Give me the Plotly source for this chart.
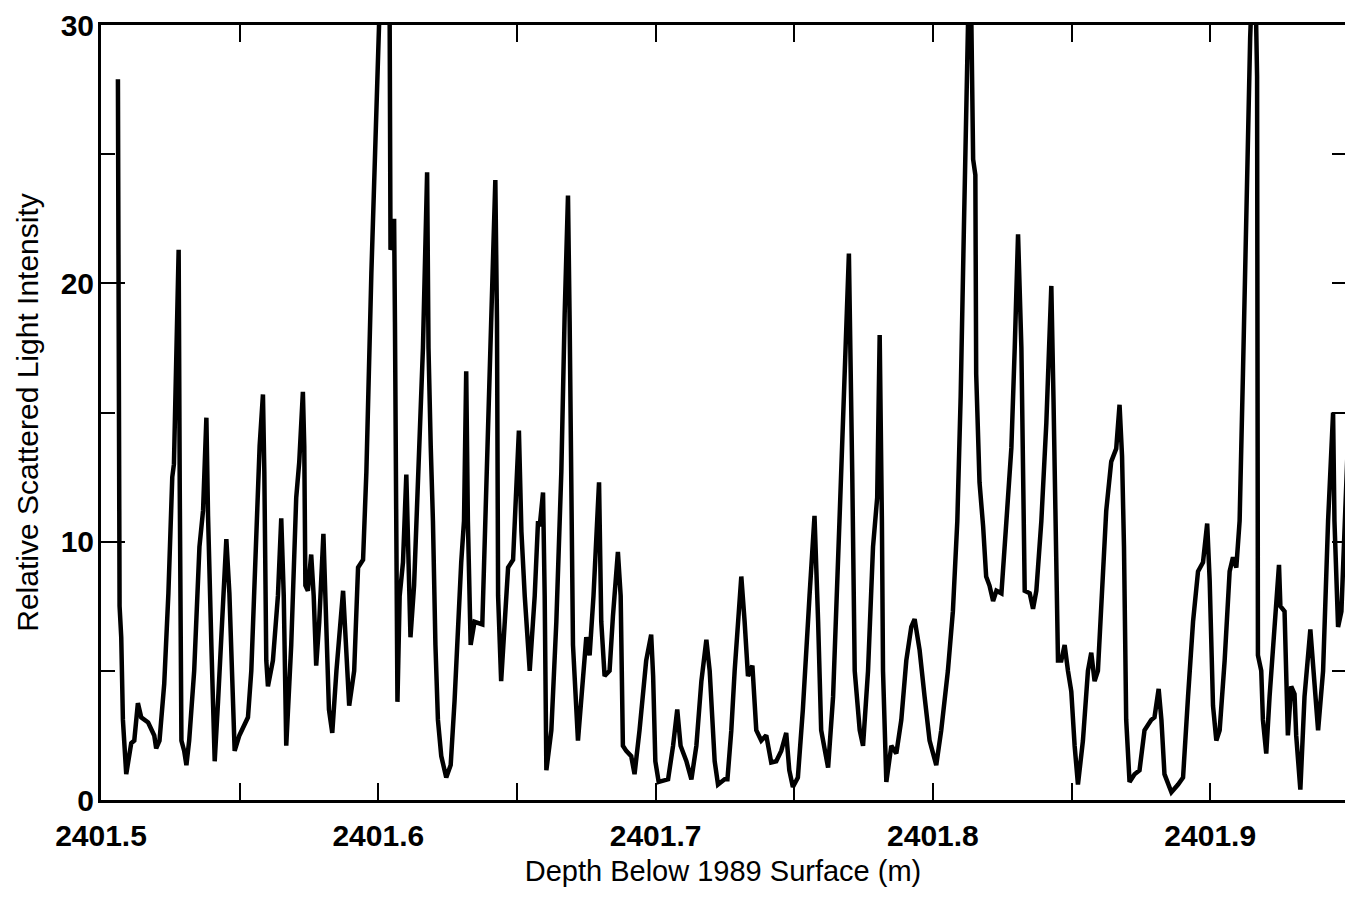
import plotly.graph_objects as go

# depth below 1989 surface (m)
depth = [
    2401.5061, 2401.5067, 2401.5073, 2401.5079, 2401.5091, 2401.5109, 2401.5120, 2401.5133,
    2401.5145, 2401.5170, 2401.5192, 2401.5199, 2401.5211, 2401.5228, 2401.5243, 2401.5257,
    2401.5263, 2401.5280, 2401.5284, 2401.5290, 2401.5300, 2401.5308, 2401.5318, 2401.5336,
    2401.5355, 2401.5368, 2401.5380, 2401.5386, 2401.5398, 2401.5410, 2401.5422, 2401.5434,
    2401.5452, 2401.5463, 2401.5476, 2401.5482, 2401.5499, 2401.5530, 2401.5542, 2401.5560,
    2401.5572, 2401.5584, 2401.5589, 2401.5596, 2401.5602, 2401.5620, 2401.5638, 2401.5650,
    2401.5659, 2401.5668, 2401.5686, 2401.5704, 2401.5715, 2401.5728, 2401.5733, 2401.5737,
    2401.5746, 2401.5758, 2401.5767, 2401.5776, 2401.5787, 2401.5802, 2401.5812, 2401.5822,
    2401.5834, 2401.5849, 2401.5873, 2401.5885, 2401.5895, 2401.5913, 2401.5927, 2401.5945,
    2401.5957, 2401.5975, 2401.5993, 2401.6001, 2401.6020, 2401.6041, 2401.6044, 2401.6050,
    2401.6057, 2401.6060, 2401.6065, 2401.6069, 2401.6077, 2401.6089, 2401.6101, 2401.6109,
    2401.6116, 2401.6129, 2401.6149, 2401.6161, 2401.6176, 2401.6181, 2401.6189, 2401.6197,
    2401.6206, 2401.6215, 2401.6227, 2401.6245, 2401.6261, 2401.6275, 2401.6299, 2401.6309,
    2401.6317, 2401.6323, 2401.6333, 2401.6347, 2401.6375, 2401.6383, 2401.6396, 2401.6407,
    2401.6422, 2401.6428, 2401.6432, 2401.6443, 2401.6455, 2401.6468, 2401.6486, 2401.6498,
    2401.6507, 2401.6516, 2401.6528, 2401.6546, 2401.6564, 2401.6576, 2401.6582, 2401.6594,
    2401.6600, 2401.6606, 2401.6624, 2401.6642, 2401.6660, 2401.6672, 2401.6684, 2401.6690,
    2401.6696, 2401.6702, 2401.6720, 2401.6738, 2401.6750, 2401.6762, 2401.6776, 2401.6796,
    2401.6804, 2401.6816, 2401.6834, 2401.6846, 2401.6864, 2401.6874, 2401.6882, 2401.6894,
    2401.6912, 2401.6924, 2401.6942, 2401.6966, 2401.6984, 2401.6991, 2401.6999, 2401.7011,
    2401.7045, 2401.7063, 2401.7078, 2401.7090, 2401.7111, 2401.7129, 2401.7147, 2401.7165,
    2401.7183, 2401.7195, 2401.7213, 2401.7225, 2401.7249, 2401.7259, 2401.7273, 2401.7285,
    2401.7309, 2401.7321, 2401.7333, 2401.7349, 2401.7363, 2401.7381, 2401.7399, 2401.7417,
    2401.7435, 2401.7453, 2401.7471, 2401.7482, 2401.7495, 2401.7513, 2401.7531, 2401.7555,
    2401.7573, 2401.7586, 2401.7597, 2401.7622, 2401.7640, 2401.7663, 2401.7681, 2401.7697,
    2401.7709, 2401.7718, 2401.7736, 2401.7748, 2401.7766, 2401.7784, 2401.7799, 2401.7808,
    2401.7816, 2401.7820, 2401.7832, 2401.7850, 2401.7868, 2401.7886, 2401.7904, 2401.7922,
    2401.7934, 2401.7952, 2401.7970, 2401.7988, 2401.8012, 2401.8030, 2401.8054, 2401.8072,
    2401.8088, 2401.8100, 2401.8112, 2401.8120, 2401.8134, 2401.8145, 2401.8153, 2401.8156,
    2401.8168, 2401.8181, 2401.8192, 2401.8204, 2401.8217, 2401.8229, 2401.8247, 2401.8265,
    2401.8283, 2401.8295, 2401.8307, 2401.8319, 2401.8325, 2401.8331, 2401.8349, 2401.8361,
    2401.8373, 2401.8391, 2401.8409, 2401.8427, 2401.8435, 2401.8445, 2401.8451, 2401.8463,
    2401.8475, 2401.8487, 2401.8499, 2401.8511, 2401.8523, 2401.8541, 2401.8559, 2401.8571,
    2401.8583, 2401.8595, 2401.8613, 2401.8625, 2401.8643, 2401.8661, 2401.8673, 2401.8682,
    2401.8689, 2401.8697, 2401.8709, 2401.8727, 2401.8745, 2401.8763, 2401.8787, 2401.8799,
    2401.8814, 2401.8824, 2401.8835, 2401.8860, 2401.8884, 2401.8902, 2401.8920, 2401.8938,
    2401.8956, 2401.8974, 2401.8989, 2401.8998, 2401.9010, 2401.9022, 2401.9034, 2401.9052,
    2401.9070, 2401.9082, 2401.9094, 2401.9106, 2401.9118, 2401.9130, 2401.9144, 2401.9159,
    2401.9169, 2401.9172, 2401.9184, 2401.9190, 2401.9202, 2401.9214, 2401.9232, 2401.9248,
    2401.9253, 2401.9268, 2401.9280, 2401.9292, 2401.9304, 2401.9310, 2401.9325, 2401.9340,
    2401.9361, 2401.9376, 2401.9389, 2401.9407, 2401.9425, 2401.9443, 2401.9448, 2401.9461,
    2401.9473, 2401.9497, 2401.9505, 2401.9515, 2401.9530,
]

# relative scattered light intensity (peaks above 30 run off the top of the frame)
intensity = [
    27.9, 7.5, 6.3, 3.1, 1.0, 2.2, 2.3, 3.75,
    3.2, 3.0, 2.5, 2.0, 2.3, 4.5, 8.0, 12.5,
    13.0, 21.3, 12.0, 2.3, 1.9, 1.35, 2.3, 5.0,
    9.8, 11.2, 14.8, 11.0, 6.0, 1.5, 3.8, 6.3,
    10.1, 8.0, 3.1, 1.9, 2.5, 3.2, 5.0, 10.8,
    13.7, 15.7, 12.7, 5.4, 4.4, 5.4, 7.9, 10.9,
    7.9, 2.1, 6.0, 11.7, 13.1, 15.8, 13.7, 8.3,
    8.1, 9.5, 7.9, 5.2, 6.9, 10.3, 6.9, 3.5,
    2.6, 5.0, 8.1, 6.0, 3.65, 5.0, 9.0, 9.3,
    12.7, 20.4, 26.2, 29.7, 36.0, 30.0, 21.3, 21.5,
    22.5, 18.5, 10.8, 3.8, 7.9, 9.2, 12.6, 8.8,
    6.3, 8.3, 14.6, 17.5, 24.3, 17.5, 13.7, 10.8,
    6.0, 3.1, 1.7, 0.87, 1.35, 3.85, 9.2, 10.8,
    16.6, 10.8, 6.0, 6.9, 6.8, 9.8, 14.6, 18.5,
    24.0, 18.5, 7.9, 4.6, 6.9, 9.0, 9.3, 12.3,
    14.3, 10.4, 7.9, 5.0, 7.9, 10.8, 10.6, 11.9,
    7.9, 1.15, 2.7, 6.9, 12.7, 18.8, 23.4, 18.5,
    10.8, 6.0, 2.3, 5.0, 6.3, 5.6, 7.9, 12.3,
    6.9, 4.8, 5.0, 7.1, 9.6, 7.9, 2.1, 1.9,
    1.7, 1.0, 2.7, 5.4, 6.4, 4.8, 1.5, 0.7,
    0.8, 2.1, 3.5, 2.1, 1.5, 0.8, 2.1, 4.6,
    6.2, 5.0, 1.5, 0.6, 0.8, 0.8, 2.7, 5.0,
    8.65, 6.9, 4.8, 5.2, 2.7, 2.3, 2.5, 1.45,
    1.5, 1.9, 2.6, 1.15, 0.5, 0.87, 3.5, 7.9,
    11.0, 6.9, 2.7, 1.25, 4.0, 10.8, 16.5, 21.15,
    12.7, 5.0, 2.7, 2.1, 5.0, 9.8, 11.7, 18.0,
    10.8, 5.0, 0.7, 2.1, 1.8, 3.1, 5.4, 6.7,
    7.0, 5.8, 4.0, 2.3, 1.35, 2.7, 5.0, 7.3,
    10.8, 15.6, 22.3, 28.1, 34.0, 24.8, 24.2, 16.5,
    12.3, 10.6, 8.65, 8.3, 7.7, 8.1, 8.0, 10.8,
    13.65, 17.5, 21.9, 17.5, 10.8, 8.1, 8.0, 7.4,
    8.1, 10.8, 14.6, 19.9, 15.4, 8.85, 5.4, 5.4,
    6.0, 5.0, 4.2, 2.1, 0.6, 2.3, 5.0, 5.7,
    4.6, 5.0, 8.85, 11.2, 13.1, 13.6, 15.3, 13.3,
    9.8, 3.1, 0.7, 1.0, 1.15, 2.7, 3.1, 3.2,
    4.3, 3.1, 1.0, 0.3, 0.6, 0.87, 4.0, 6.9,
    8.85, 9.2, 10.7, 8.5, 3.65, 2.3, 2.7, 5.4,
    8.85, 9.4, 9.0, 10.8, 16.5, 23.3, 29.5, 34.0,
    28.0, 5.6, 5.0, 3.1, 1.8, 4.0, 6.9, 9.1,
    7.5, 7.3, 2.5, 4.4, 4.1, 2.5, 0.4, 4.0,
    6.6, 4.4, 2.7, 5.0, 10.8, 15.0, 10.8, 6.7,
    7.3, 14.0, 10.8, 9.6, 9.0,
]

x_ticks = [2401.5, 2401.6, 2401.7, 2401.8, 2401.9]
x_labels = ['2401.5', '2401.6', '2401.7', '2401.8', '2401.9']
y_ticks = [0, 10, 20, 30]
y_right_ticks = [5, 10, 15, 20, 25]

fig = go.Figure()
fig.add_trace(go.Scatter(
    x=depth,
    y=intensity,
    mode='lines',
    line=dict(color='black', width=4.5),
    hoverinfo='x+y',
    showlegend=False
))
# empty trace only so the right-hand tick axis gets drawn
fig.add_trace(go.Scatter(x=[], y=[], yaxis='y2', mode='lines',
                         hoverinfo='skip', showlegend=False))

tick_font = dict(family='Liberation Sans, Arial, sans-serif', size=30, color='black', weight='bold')

# the page body has an 8px margin, so the figure is sized to fit inside the window
fig.update_layout(
    width=1337,
    height=882,
    margin=dict(l=93, r=0, t=17, b=90),
    paper_bgcolor='white',
    plot_bgcolor='white',
    xaxis=dict(
        range=[2401.5, 2401.9486],
        tickvals=x_ticks,
        ticktext=x_labels,
        ticks='inside',
        ticklen=17,
        tickwidth=2,
        tickcolor='black',
        minor=dict(dtick=0.05, tick0=2401.5, ticks='inside', ticklen=17, tickwidth=2, tickcolor='black'),
        showline=True,
        linewidth=3,
        linecolor='black',
        mirror='ticks',
        showgrid=False,
        zeroline=False,
        tickfont=tick_font,
        ticklabelstandoff=7,
        title=dict(text='Depth Below 1989 Surface (m)',
                   font=dict(family='Liberation Sans, Arial, sans-serif', size=29, color='black'),
                   standoff=10),
    ),
    yaxis=dict(
        range=[0, 30],
        tickvals=y_ticks,
        ticks='inside',
        ticklen=24,
        tickwidth=2,
        tickcolor='black',
        minor=dict(dtick=5, ticks='inside', ticklen=14, tickwidth=2, tickcolor='black'),
        showline=True,
        linewidth=3,
        linecolor='black',
        showgrid=False,
        zeroline=False,
        tickfont=tick_font,
        ticklabelstandoff=-2,
        title=dict(text='Relative Scattered Light Intensity',
                   font=dict(family='Liberation Sans, Arial, sans-serif', size=30, color='black'),
                   standoff=14),
    ),
    yaxis2=dict(
        overlaying='y',
        side='right',
        anchor='x',
        range=[0, 30],
        tickvals=y_right_ticks,
        ticks='inside',
        ticklen=13,
        tickwidth=2,
        tickcolor='black',
        showticklabels=False,
        showline=False,
        showgrid=False,
        zeroline=False,
    ),
)

fig.write_html("out.html")
